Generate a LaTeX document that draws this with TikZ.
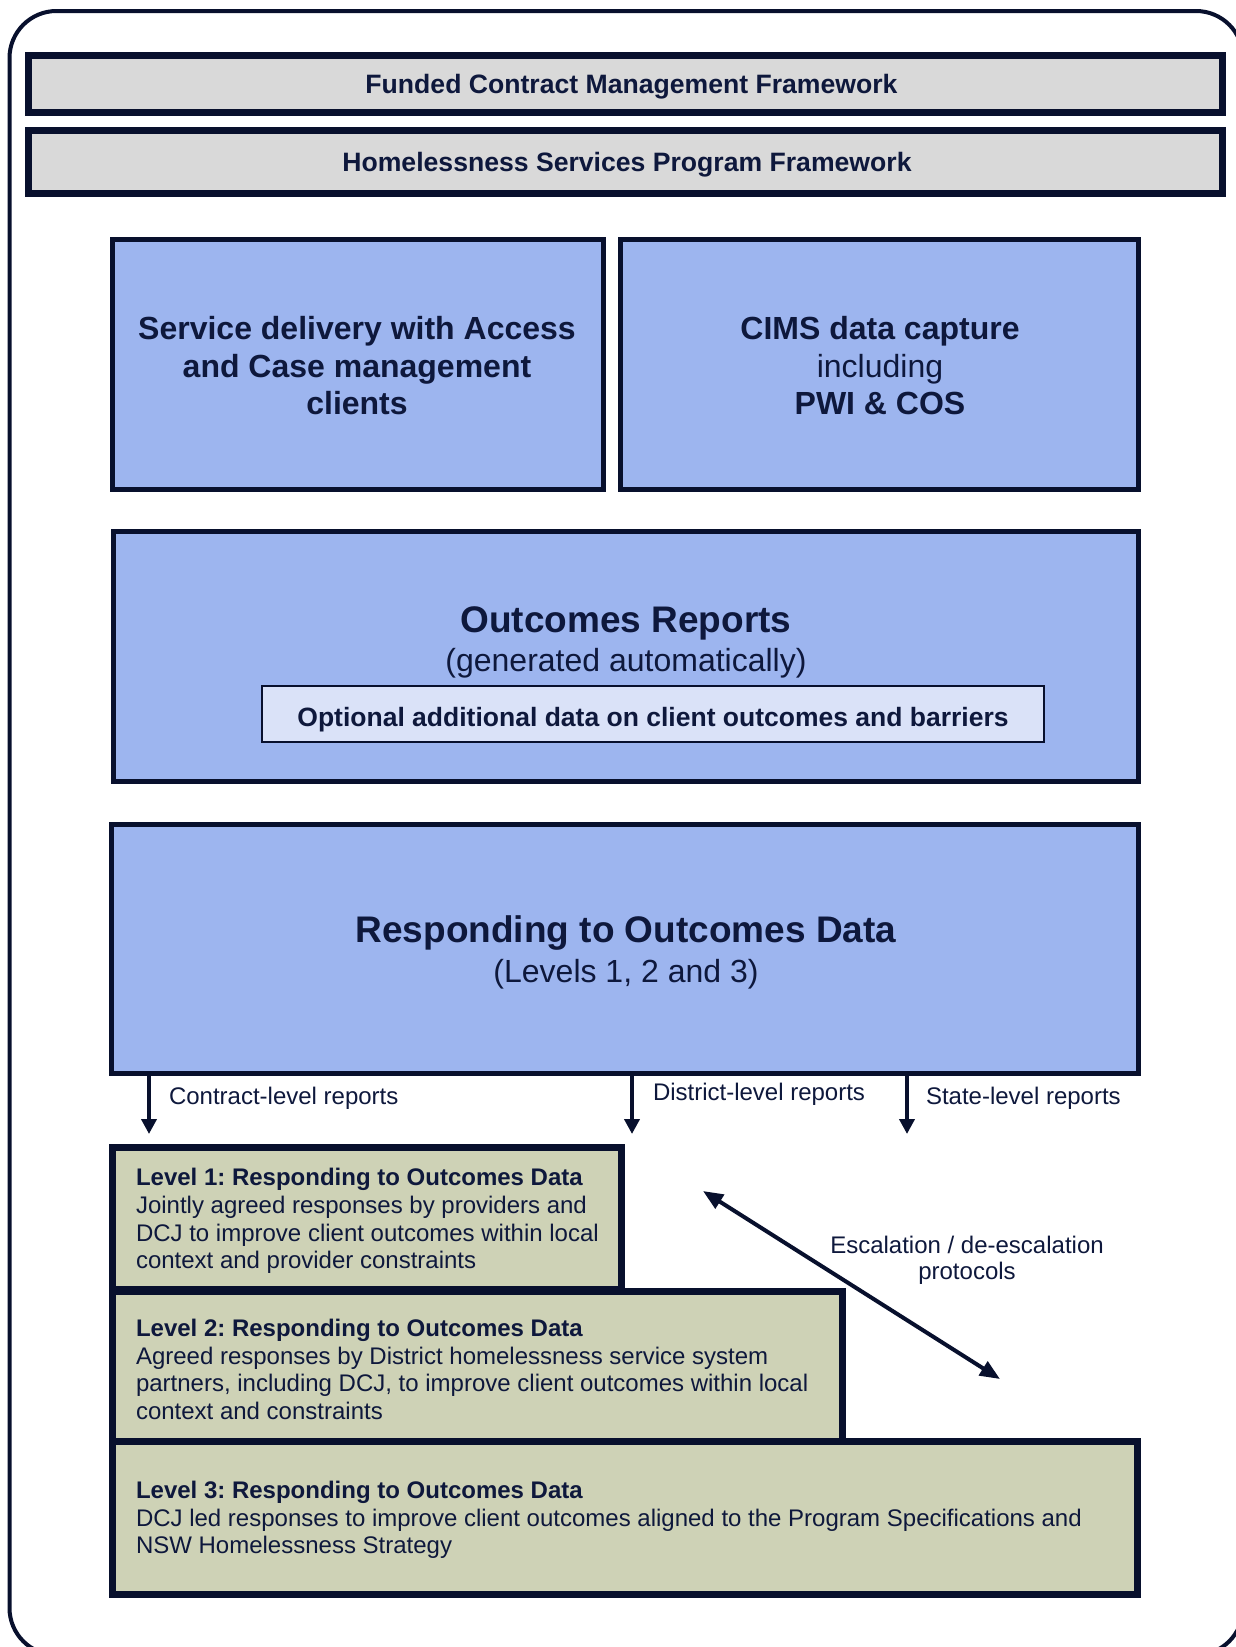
\documentclass[tikz,border=0pt]{standalone}
\usepackage{fontspec}
\setmainfont{Liberation Sans}
\usetikzlibrary{arrows.meta}
\definecolor{navy}{RGB}{8,16,45}
\definecolor{txt}{RGB}{14,24,60}
\definecolor{bannergray}{RGB}{217,217,217}
\definecolor{boxblue}{RGB}{157,181,239}
\definecolor{paleblue}{RGB}{218,226,248}
\definecolor{khaki}{RGB}{206,210,182}
\frenchspacing
\begin{document}
\begin{tikzpicture}[x=1pt,y=-1pt,
  every node/.style={inner sep=0pt, outer sep=0pt, text=txt},
  banner/.style={draw=navy, fill=bannergray, line width=7pt, minimum width=1194pt},
  bannertext/.style={text height=19pt, text depth=0pt, font=\fontsize{26.6}{30}\selectfont\bfseries},
  bluebox/.style={draw=navy, fill=boxblue, line width=5pt},
  levelbox/.style={draw=navy, fill=khaki, line width=7pt},
  optbox/.style={draw=navy, fill=paleblue, line width=2pt},
  lbl/.style={font=\fontsize{24}{27.6}\selectfont},
  downarrow/.style={draw=navy, line width=4pt, -{Triangle[width=15pt,length=15pt]}},
  bigbold/.style={font=\fontsize{37}{44}\selectfont\bfseries},
  subtxt/.style={font=\fontsize{32}{38}\selectfont}
]
\fill[white] (0,0) rectangle (1235,1647);
\useasboundingbox (0,0) rectangle (1235,1647);

% outer frame
\draw[navy, line width=4pt, rounded corners=47pt] (9.5,11) rectangle (1243,1655);

% banners
\node[banner, minimum height=57pt] (fcmf) at (625.5,84) {};
\node[bannertext] (fcmfT) at (631.5,84) {Funded Contract Management Framework};
\node[banner, minimum height=63pt] (hspf) at (625.5,162) {};
\node[bannertext] (hspfT) at (627,162) {Homelessness Services Program Framework};

% top blue boxes
\node[bluebox, minimum width=491pt, minimum height=250pt] (svc) at (358,364.5) {};
\node[font=\fontsize{32}{37.5}\selectfont\bfseries, align=center] (svcT) at (357,366)
      {Service delivery with Access\\and Case management\\clients};
\node[bluebox, minimum width=518pt, minimum height=250pt] (cims) at (879.5,364.5) {};
\node[font=\fontsize{32}{37.5}\selectfont, align=center] (cimsT) at (880,366)
      {\bfseries CIMS data capture\\including\\\bfseries PWI \& COS};

% outcomes reports
\node[bluebox, minimum width=1025pt, minimum height=250pt] (outc) at (626,656.5) {};
\node[bigbold] (outT) at (626,623) {Outcomes Reports};
\node[subtxt] (outS) at (626,663) {(generated automatically)};
\node[optbox, minimum width=782pt, minimum height=56pt, text height=25pt, text depth=0pt,
      font=\fontsize{26.5}{30}\selectfont\bfseries] (opt) at (653,714)
      {Optional additional data on client outcomes and barriers};

% arrow tips
\coordinate (cTip) at (149,1134);
\coordinate (dTip) at (632,1134);
\coordinate (sTip) at (907,1134);

% responding box
\node[bluebox, minimum width=1027pt, minimum height=249pt] (resp) at (625,949) {};
\node[bigbold] (respT) at (626,933) {Responding to Outcomes Data};
\node[subtxt] (respS) at (626,974) {(Levels 1, 2 and 3)};

\draw[downarrow] (resp.south -| cTip) -- (cTip);
\draw[downarrow] (resp.south -| dTip) -- (dTip);
\draw[downarrow] (resp.south -| sTip) -- (sTip);

\node[lbl, anchor=base west] (cLab) at (169,1104) {Contract-level reports};
\node[lbl, anchor=base west] (dLab) at (653,1100) {District-level reports};
\node[lbl, anchor=base west] (sLab) at (926,1104) {State-level reports};

% level boxes
\node[levelbox, minimum width=509pt, minimum height=142pt] (L1) at (367,1218.5) {};
\node[levelbox, minimum width=730pt, minimum height=152pt] (L2) at (477.5,1367.5) {};
\node[levelbox, minimum width=1025pt, minimum height=153pt] (L3) at (625,1518) {};

\node[lbl, anchor=west, align=left] (L1T) at (136,1221)
  {\textbf{Level 1: Responding to Outcomes Data}\\Jointly agreed responses by providers and\\DCJ to improve client outcomes within local\\context and provider constraints};
\node[lbl, anchor=west, align=left] (L2T) at (136,1369.5)
  {\textbf{Level 2: Responding to Outcomes Data}\\Agreed responses by District homelessness service system\\partners, including DCJ, to improve client outcomes within local\\context and constraints};
\node[lbl, anchor=west, align=left] (L3T) at (136,1520)
  {\textbf{Level 3: Responding to Outcomes Data}\\DCJ led responses to improve client outcomes aligned to the Program Specifications and\\NSW Homelessness Strategy};

% escalation arrow
\coordinate (escA) at (703,1191);
\coordinate (escB) at (1000,1379);
\draw[navy, line width=4pt, {Triangle[length=20pt,width=16pt]}-{Triangle[length=20pt,width=16pt]}] (escA) -- (escB);
\node[font=\fontsize{24}{26}\selectfont, align=center] (escLab) at (967,1260) {Escalation / de-escalation\\protocols};
\end{tikzpicture}
\end{document}
